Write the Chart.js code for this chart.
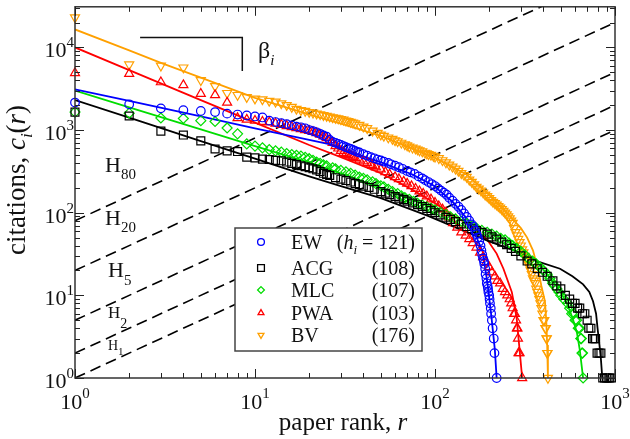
<!DOCTYPE html>
<html>
<head>
<meta charset="utf-8">
<script src="https://cdn.jsdelivr.net/npm/chart.js@4"></script>
<style>
  html, body { margin: 0; padding: 0; background: #fff; }
  canvas { display: block; }
</style>
</head>
<body>
<canvas id="grafico" width="630" height="439"></canvas>
<script>
// values: [paper rank r, citations c_i(r)]
const ewPoints = [[1,2150],[2,2050],[3,1830],[4,1740],[5,1700],[6,1650],[7,1580],[8,1540],[9,1500],[10,1460],[11,1420],[12,1300],[13,1250],[14,1210],[15,1180],[16,1140],[17,1100],[18,1080],[19,1050],[20,1000],[21,970],[22,940],[23,900],[24,860],[25,830],
  [26,760],[27,720],[28,700],[29,680],[30,660],[31,640],[32,620],[33,605],[34,590],[35,575],[36,560],[37,545],[38,535],[40,510],[42,490],[44,470],[46,455],[48,440],[50,428],[52,415],[55,400],[57,385],[60,370],
  [63,355],[66,340],[70,320],[73,308],[77,295],[81,275],[85,260],[88,248],[92,235],[96,222],[100,210],[104,197],[108,185],[112,175],[116,165],[120,152],[125,140],[130,128],[135,118],[140,108],
  [145,98],[150,89],[155,80],[160,72],[163,68],[167,61],[170,55],[173,50],[176,45],[179,40],[181,35],[183,31],[185,28],[187,26],[188,24],[190,21],[191,18],[193,16],[194,14],[196,13],
  [197,12],[198,11],[200,10],[201,9],[202,8],[204,7],[205,6],[207,5],[209,4],[212,3],[214,2],[220,1]];
const ewFit = [[1,3100],[2,2250],[5,1460],[10,1050],[20,760],[27,660],[40,480],[51,400],[75,290],[98,214],[126,134],[156,77],[184,34],[196,13.6],[206,5.4],[215,2.2],[220,1]];

const acgPoints = [[1,1650],[2,1480],[3,970],[4,870],[5,740],[6,590],[7,560],[8,550],[9,470],[10,460],[11,445],[12,440],[13,430],[14,425],[15,410],[16,395],[17,382],[18,370],[19,360],[20,350],[21,340],[22,330],[23,315],[24,300],[25,290],
  [26,282],[28,265],[30,255],[32,245],[34,235],[36,225],[38,218],[40,210],[43,202],[46,192],[50,180],[53,172],[56,165],[60,157],[63,150],[67,144],[70,138],[75,131],[80,125],[85,119],[90,113],[95,106],[100,100],
  [107,94],[115,88],[122,83],[130,78],[140,73],[150,68],[160,64],[170,61],[182,58],[195,55],[207,51],[220,48],[235,44],[250,41],[265,37],[280,34],[300,30],[325,26],[345,24],[370,21],[395,19],[420,17],
  [452,15],[475,13],[500,12],[530,10],[560,9],[580,8],[600,8],[620,7],[637,7],[660,6],[680,6],[700,5],[715,4],[735,4],[750,3],[765,3],[780,3],[795,2],[815,2],[835,2],[855,1],[875,1],[895,1],[915,1],[935,1],[955,1]];
const acgFit = [[1,2300],[2,1410],[5,735],[10,450],[20,275],[30,210],[50,150],[90,93],[150,58],[200,45],[284,34],[367,26],[495,21],[580,17],[665,13.6],[720,11],[755,8.5],[785,6],[800,4],[820,2.5],[835,1.7],[850,1]];

const mlcPoints = [[1,1650],[2,1600],[3,1400],[4,1380],[5,1300],[6,1270],[7,1060],[8,900],[9,680],[10,640],[11,610],[12,580],[13,560],[14,540],[15,520],[16,505],[17,495],[18,485],[19,468],[20,450],[21,430],[22,410],[23,395],[24,380],[25,370],
  [27,350],[28,340],[30,325],[32,312],[34,300],[36,285],[38,270],[40,260],[42,250],[45,236],[47,225],[50,212],[52,205],[55,192],[58,180],[62,170],[65,160],[68,152],[72,145],[76,137],[80,130],[85,124],[90,118],[95,113],[100,108],
  [107,101],[115,95],[122,89],[130,84],[140,79],[150,74],[160,69],[170,65],[182,61],[195,58],[207,55],[220,52],[232,49],[245,47],[258,43],[270,40],[285,37],[300,34],[315,31],[330,28],[348,26],[365,24],[382,22],[400,20],
  [420,18],[435,16],[450,14],[462,13],[475,12],[488,11],[500,10],[520,9],[545,8],[560,7],[575,6],[590,6],[600,5],[612,5],[625,4],[635,4],[645,3],[650,3],[655,2],[660,2],[665,1]];
const mlcFit = [[1,3000],[2,1880],[5,1020],[10,640],[20,405],[30,300],[50,200],[80,135],[120,95],[170,68],[240,48],[300,37],[367,25.6],[430,17],[495,11.3],[540,8],[580,5.4],[615,3.5],[637,2.2],[665,1]];

const pwaPoints = [[1,4900],[2,4800],[3,3800],[4,3500],[5,2750],[6,2650],[7,2150],[8,1400],[9,1340],[10,1300],[11,1260],[12,1240],[13,1200],[14,1160],[15,1120],[16,1090],[17,1060],[18,1030],[19,1000],[20,980],[21,950],[22,920],[23,880],[24,840],[25,800],
  [26,760],[27,700],[28,640],[29,600],[30,560],[31,530],[32,515],[33,500],[34,490],[35,475],[36,460],[38,440],[40,420],[42,400],[44,380],[45,370],[47,355],[50,335],[53,310],[56,290],[60,270],[63,255],[67,238],[70,225],[74,210],
  [78,195],[82,182],[86,170],[90,158],[95,145],[100,132],[105,120],[110,110],[115,100],[120,88],[126,75],[133,66],[140,58],[148,53],[155,48],[162,43],[170,38],[178,33],[185,29],[192,25],[200,22],[207,19],[215,17],[222,15],
  [230,14],[238,12],[245,11],[252,10],[260,9],[265,8],[270,7],[275,6],[278,6],[282,5],[285,4],[287,4],[289,3],[291,2],[295,2],[305,1]];
const pwaFit = [[1,10000],[2,5300],[5,2300],[10,1230],[20,660],[30,470],[50,300],[75,190],[100,130],[126,93],[160,68],[194,48],[220,32],[240,21],[267,11],[284,5.4],[295,2.2],[305,1]];

const bvPoints = [[1,23000],[2,6200],[3,6000],[4,5700],[5,4000],[6,3400],[7,2800],[8,2650],[9,2500],[10,2400],[11,2350],[12,2250],[13,2200],[14,2100],[15,2000],[16,1900],[17,1800],[18,1740],[19,1700],[20,1650],[21,1620],[22,1580],[23,1550],[24,1510],[25,1480],
  [26,1450],[27,1420],[28,1400],[29,1380],[30,1350],[31,1330],[32,1300],[33,1280],[34,1250],[35,1230],[36,1200],[38,1150],[40,1100],[42,1050],[45,980],[48,920],[50,880],[52,850],[55,810],[58,780],[60,750],[62,730],[65,700],
  [68,670],[70,650],[72,630],[75,610],[78,595],[80,580],[82,565],[85,550],[88,530],[90,520],[92,510],[95,500],[98,485],[100,475],[105,455],[110,430],[115,405],[120,380],[125,360],[130,340],[135,320],[140,300],[145,285],
  [150,270],[155,250],[160,235],[165,220],[170,205],[175,195],[180,185],[185,175],[190,165],[195,158],[200,150],[205,142],[210,135],[215,130],[220,125],[225,120],[230,115],[235,110],[240,105],[245,100],[250,95],
  [255,90],[260,85],[265,80],[270,75],[275,65],[280,58],[285,53],[290,48],[295,44],[300,40],[305,36],[310,33],[315,30],[320,28],[325,26],[330,24],[335,22],[340,20],[345,18],[350,16],[355,15],[360,14],[365,12],[370,11],
  [375,10],[380,9],[385,8],[390,7],[395,6],[400,5],[405,5],[410,4],[413,4],[416,3],[418,3],[420,2],[422,2],[424,1]];
const bvFit = [[1,16500],[2,9200],[3,6500],[5,4300],[10,2450],[20,1550],[30,1200],[50,850],[100,460],[150,290],[200,165],[250,100],[300,65],[325,50],[350,35],[373,21],[390,13],[408,8.5],[415,5],[420,2.5],[424,1]];

// reference lines c = k r
const hLevels = [1, 2, 5, 20, 80];
const rankSpan = [1, 1000];

const legendNames = ['EW', 'ACG', 'MLC', 'PWA', 'BV'];
const legendH = [121, 108, 107, 103, 176];

const SERIF = '"Liberation Serif", "Times New Roman", "DejaVu Serif", serif';
const cores = ['#0000ff', '#000000', '#00dd00', '#ff0000', '#ffa000'];
const estilos = ['circle', 'rect', 'rectRot', 'triangle', 'triangle'];
const raios = [4.3, 5.6, 5, 5.2, 5.2];
const rotacoes = [0, 0, 0, 0, 180];

const pts = lista => lista.map(p => ({ x: p[0], y: p[1] }));
const series = [
  [ewPoints, ewFit],
  [acgPoints, acgFit],
  [mlcPoints, mlcFit],
  [pwaPoints, pwaFit],
  [bvPoints, bvFit]
];

const datasets = [];
series.forEach((s, i) => {
  datasets.push({
    data: pts(s[0]),
    showLine: false,
    pointStyle: estilos[i],
    pointRadius: raios[i],
    pointRotation: rotacoes[i],
    pointBorderWidth: 1.2,
    borderColor: cores[i],
    backgroundColor: 'rgba(0,0,0,0)',
    clip: false,
    order: 0
  });
  datasets.push({
    data: pts(s[1]),
    showLine: true,
    pointRadius: 0,
    borderColor: cores[i],
    borderWidth: 1.8,
    tension: 0,
    order: 1
  });
});
hLevels.forEach(k => {
  datasets.push({
    data: rankSpan.map(r => ({ x: r, y: k * r })),
    showLine: true,
    pointRadius: 0,
    borderColor: '#000',
    borderWidth: 1.6,
    borderDash: [11, 6],
    order: 2
  });
});

function texto(ctx, partes, x, y, align) {
  let total = 0;
  partes.forEach(p => {
    ctx.font = (p.it ? 'italic ' : '') + p.size + 'px ' + SERIF;
    p.w = ctx.measureText(p.t).width;
    total += p.w;
  });
  let cx = align === 'center' ? x - total / 2 : (align === 'right' ? x - total : x);
  ctx.textAlign = 'left';
  ctx.textBaseline = 'alphabetic';
  partes.forEach(p => {
    ctx.font = (p.it ? 'italic ' : '') + p.size + 'px ' + SERIF;
    ctx.fillText(p.t, cx, y + (p.dy || 0));
    cx += p.w;
  });
}

function marcador(ctx, estilo, rot, x, y, r) {
  ctx.beginPath();
  if (estilo === 'circle') {
    ctx.arc(x, y, r, 0, 2 * Math.PI);
  } else if (estilo === 'rect') {
    ctx.rect(x - r, y - r, 2 * r, 2 * r);
  } else if (estilo === 'rectRot') {
    ctx.moveTo(x, y - r); ctx.lineTo(x + r, y); ctx.lineTo(x, y + r); ctx.lineTo(x - r, y); ctx.closePath();
  } else {
    const s = rot ? -1 : 1;
    ctx.moveTo(x, y - s * r); ctx.lineTo(x + r * 0.87, y + s * r * 0.5); ctx.lineTo(x - r * 0.87, y + s * r * 0.5); ctx.closePath();
  }
  ctx.stroke();
}

const decorar = {
  id: 'decorar',
  afterDatasetsDraw(chart) {
    const ctx = chart.ctx;
    const a = chart.chartArea;
    const xs = chart.scales.x, ys = chart.scales.y;
    ctx.save();

    // legend box
    ctx.fillStyle = '#fff';
    ctx.fillRect(235, 228, 187, 123);
    ctx.strokeStyle = '#444';
    ctx.lineWidth = 1.5;
    ctx.strokeRect(235, 228, 187, 123);
    const linhas = [242, 268, 290, 313, 335];
    legendNames.forEach((n, i) => {
      ctx.strokeStyle = cores[i];
      ctx.lineWidth = 1.3;
      marcador(ctx, estilos[i], rotacoes[i], 261, linhas[i], 3.4);
      ctx.fillStyle = '#111';
      texto(ctx, [{ t: n, size: 20 }], 291, linhas[i] + 7, 'left');
      if (i === 0) {
        texto(ctx, [{ t: '(', size: 20 }, { t: 'h', size: 20, it: true }, { t: 'i', size: 13, it: true, dy: 5 },
          { t: ' = ' + legendH[i] + ')', size: 20 }], 415, linhas[i] + 7, 'right');
      } else {
        texto(ctx, [{ t: '(' + legendH[i] + ')', size: 20 }], 415, linhas[i] + 7, 'right');
      }
    });

    // H labels
    ctx.fillStyle = '#111';
    texto(ctx, [{ t: 'H', size: 22 }, { t: '80', size: 15, dy: 7 }], 105, 172, 'left');
    texto(ctx, [{ t: 'H', size: 22 }, { t: '20', size: 15, dy: 7 }], 105, 225, 'left');
    texto(ctx, [{ t: 'H', size: 22 }, { t: '5', size: 15, dy: 8 }], 108, 277, 'left');
    texto(ctx, [{ t: 'H', size: 17 }, { t: '2', size: 14, dy: 10 }], 108, 318, 'left');
    texto(ctx, [{ t: 'H', size: 14 }, { t: '1', size: 11, dy: 5 }], 108, 350, 'left');

    // beta bracket
    ctx.strokeStyle = '#111';
    ctx.lineWidth = 1.5;
    ctx.beginPath();
    ctx.moveTo(xs.getPixelForValue(2.3), ys.getPixelForValue(13200));
    ctx.lineTo(xs.getPixelForValue(8.5), ys.getPixelForValue(13200));
    ctx.lineTo(xs.getPixelForValue(8.5), ys.getPixelForValue(5200));
    ctx.stroke();
    texto(ctx, [{ t: 'β', size: 24 }, { t: 'i', size: 15, it: true, dy: 7 }], 258, 58, 'left');

    // frame
    ctx.strokeStyle = '#333';
    ctx.lineWidth = 1.5;
    ctx.strokeRect(a.left, a.top, a.right - a.left, a.bottom - a.top);

    // ticks on all four sides, pointing inward
    ctx.lineWidth = 1;
    ctx.strokeStyle = '#222';
    ctx.beginPath();
    for (let d = 1; d <= 1000; d *= 10) {
      for (let m = 1; m <= 9; m++) {
        const v = d * m;
        if (v > 1000) break;
        const px = Math.round(xs.getPixelForValue(v)) + 0.5;
        const L = m === 1 ? 9 : 5;
        ctx.moveTo(px, a.bottom); ctx.lineTo(px, a.bottom - L);
        ctx.moveTo(px, a.top); ctx.lineTo(px, a.top + L);
      }
    }
    for (let d = 1; d <= 10000; d *= 10) {
      for (let m = 1; m <= 9; m++) {
        const v = d * m;
        if (v > ys.max) break;
        const py = Math.round(ys.getPixelForValue(v)) + 0.5;
        const L = m === 1 ? 9 : 5;
        ctx.moveTo(a.left, py); ctx.lineTo(a.left + L, py);
        ctx.moveTo(a.right, py); ctx.lineTo(a.right - L, py);
      }
    }
    ctx.stroke();

    // tick labels
    ctx.fillStyle = '#111';
    [1, 10, 100, 1000].forEach((v, e) => {
      const px = xs.getPixelForValue(v);
      texto(ctx, [{ t: '10', size: 22 }, { t: String(e), size: 15, dy: -11 }], px, 409, 'center');
    });
    [1, 10, 100, 1000, 10000].forEach((v, e) => {
      const py = ys.getPixelForValue(v);
      texto(ctx, [{ t: '10', size: 22 }, { t: String(e), size: 15, dy: -10 }], 74, py + 10, 'right');
    });

    // axis titles
    texto(ctx, [{ t: 'paper rank, ', size: 25 }, { t: 'r', size: 25, it: true }], 343, 430, 'center');
    ctx.save();
    ctx.translate(25, 180);
    ctx.rotate(-Math.PI / 2);
    texto(ctx, [{ t: 'citations, ', size: 27 }, { t: 'c', size: 27, it: true }, { t: 'i', size: 17, it: true, dy: 7 },
      { t: '(', size: 27 }, { t: 'r', size: 27, it: true }, { t: ')', size: 27 }], 0, 0, 'center');
    ctx.restore();

    ctx.restore();
  }
};

new Chart(document.getElementById('grafico').getContext('2d'), {
  type: 'scatter',
  data: { datasets: datasets },
  options: {
    responsive: false,
    animation: false,
    events: [],
    layout: { padding: { left: 75, right: 15, top: 2, bottom: 61 } },
    plugins: { legend: { display: false }, tooltip: { enabled: false } },
    scales: {
      x: { type: 'logarithmic', min: 1, max: 1000, display: false },
      y: { type: 'logarithmic', min: 1, max: 31000, display: false }
    }
  },
  plugins: [decorar]
});
</script>
</body>
</html>
